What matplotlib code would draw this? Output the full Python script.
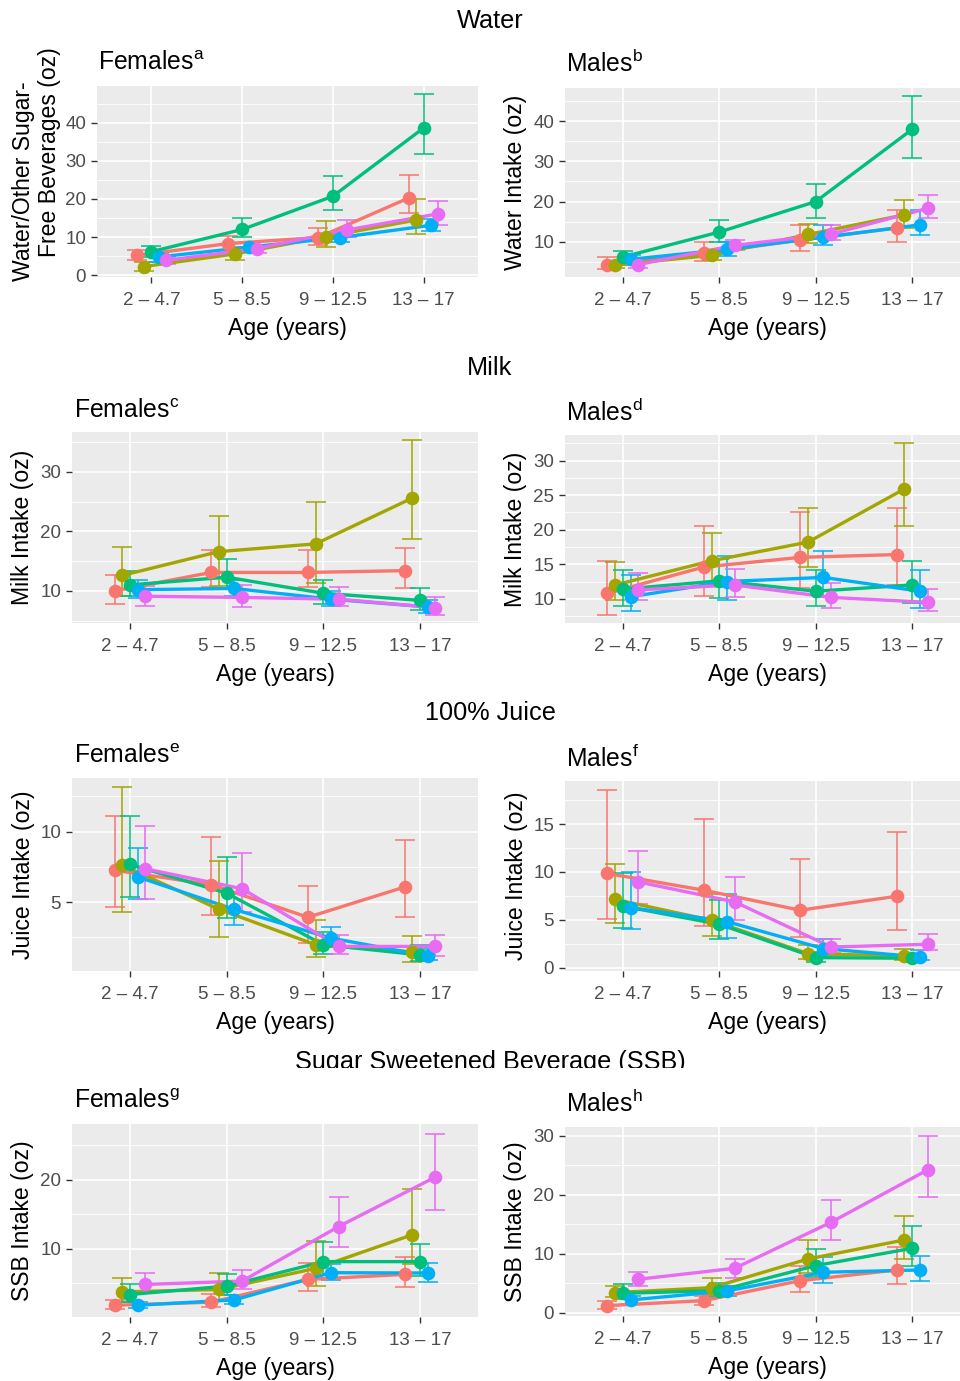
import matplotlib
matplotlib.use("Agg")
import matplotlib.pyplot as plt
import numpy as np
from matplotlib.transforms import Bbox

plt.rcParams['font.family'] = ['Liberation Sans', 'DejaVu Sans']
plt.rcParams['mathtext.fontset'] = 'custom'
plt.rcParams['mathtext.rm'] = 'Liberation Sans'
plt.rcParams['mathtext.it'] = 'Liberation Sans'

# ---------------- data ----------------
age_groups = ["2 – 4.7", "5 – 8.5", "9 – 12.5", "13 – 17"]
group_colors = ["#F8766D", "#A3A500", "#00BF7D", "#00B0F6", "#E76BF3"]

# rows: red, olive, green, blue, pink ; columns: age groups
water_f_mean = [[5.2, 8.3, 9.9, 20.3], [2.3, 5.6, 10.1, 14.5], [6.2, 12.0, 20.7, 38.6], [4.8, 7.4, 9.9, 13.1], [3.9, 7.0, 11.9, 16.1]]
water_f_low = [[4.0, 6.6, 7.9, 16.2], [1.2, 4.1, 7.5, 10.7], [4.9, 10.0, 17.1, 31.7], [3.6, 6.2, 8.6, 11.7], [2.9, 5.8, 10.0, 13.2]]
water_f_high = [[6.7, 10.3, 12.4, 26.3], [3.6, 7.5, 14.1, 19.9], [7.7, 14.9, 25.9, 47.5], [5.8, 8.8, 11.0, 14.7], [4.9, 7.9, 14.5, 19.5]]

water_m_mean = [[4.3, 7.1, 10.4, 13.4], [4.2, 6.6, 11.8, 16.7], [6.2, 12.4, 20.0, 38.0], [5.6, 8.1, 11.1, 14.2], [4.3, 9.1, 11.9, 18.3]]
water_m_low = [[3.2, 5.2, 7.6, 10.0], [3.4, 5.4, 9.6, 13.4], [4.7, 10.0, 16.0, 30.9], [4.3, 6.4, 9.2, 11.6], [3.5, 7.9, 10.4, 16.0]]
water_m_high = [[6.2, 10.0, 14.1, 17.9], [5.2, 7.9, 14.4, 20.3], [7.7, 15.3, 24.5, 46.3], [6.7, 9.8, 14.1, 17.9], [5.2, 10.4, 14.1, 21.6]]

milk_f_mean = [[10.0, 13.1, 13.1, 13.4], [12.6, 16.6, 17.9, 25.6], [11.0, 12.3, 9.6, 8.4], [10.2, 10.4, 8.6, 7.3], [9.1, 8.9, 8.6, 7.2]]
milk_f_low = [[7.8, 10.6, 10.6, 10.5], [9.1, 10.8, 11.3, 18.8], [9.1, 10.4, 7.8, 6.8], [8.8, 9.1, 7.5, 6.3], [7.5, 7.3, 7.4, 6.0]]
milk_f_high = [[12.6, 16.9, 16.9, 17.2], [17.4, 22.6, 24.9, 35.3], [13.4, 15.3, 11.8, 10.5], [11.8, 11.8, 9.9, 8.4], [10.8, 11.0, 10.7, 8.9]]

milk_m_mean = [[10.8, 14.6, 16.0, 16.4], [12.0, 15.5, 18.2, 25.9], [11.4, 12.6, 11.1, 12.0], [10.3, 12.5, 13.1, 11.1], [11.3, 12.0, 10.2, 9.5]]
milk_m_low = [[7.7, 10.4, 11.5, 12.0], [9.8, 12.5, 14.6, 20.6], [8.9, 10.1, 8.9, 9.4], [8.2, 9.8, 10.2, 8.7], [9.8, 10.2, 8.7, 8.2]]
milk_m_high = [[15.5, 20.6, 22.5, 23.1], [15.3, 19.5, 23.1, 32.6], [14.1, 15.7, 14.2, 15.5], [13.4, 16.2, 16.9, 14.1], [13.7, 14.3, 12.3, 11.4]]

juice_f_mean = [[7.26, 6.24, 3.93, 6.07], [7.62, 4.5, 1.98, 1.48], [7.67, 5.64, 1.98, 1.26], [6.79, 4.48, 2.45, 1.19], [7.36, 5.95, 1.86, 1.86]]
juice_f_low = [[4.64, 4.07, 2.12, 3.98], [4.33, 2.5, 1.12, 0.79], [5.33, 3.86, 1.36, 0.83], [5.19, 3.4, 1.79, 0.88], [5.19, 4.29, 1.36, 1.21]]
juice_f_high = [[11.1, 9.64, 6.12, 9.4], [13.17, 7.93, 3.74, 2.57], [11.1, 8.17, 2.9, 1.95], [8.86, 5.6, 3.26, 1.67], [10.43, 8.5, 2.69, 2.69]]

juice_m_mean = [[9.84, 8.09, 6.0, 7.46], [7.12, 4.95, 1.46, 1.22], [6.42, 4.53, 1.05, 0.98], [6.28, 4.81, 1.99, 1.12], [8.96, 6.87, 2.16, 2.44]]
juice_m_low = [[5.13, 4.32, 3.21, 3.98], [4.67, 3.31, 0.94, 0.84], [4.15, 3.03, 0.59, 0.59], [4.01, 3.14, 1.29, 0.84], [6.7, 5.02, 1.53, 1.81]]
juice_m_high = [[18.56, 15.52, 11.34, 14.2], [10.8, 7.74, 2.34, 1.99], [9.84, 7.05, 1.64, 1.46], [10.0, 7.74, 2.96, 1.81], [12.17, 9.49, 2.96, 3.49]]

ssb_f_mean = [[1.76, 2.2, 5.51, 6.24], [3.7, 4.05, 7.12, 12.0], [3.32, 4.54, 8.1, 8.1], [1.76, 2.54, 6.49, 6.44], [4.78, 5.27, 13.2, 20.4]]
ssb_f_low = [[1.27, 1.51, 3.9, 4.39], [2.2, 2.59, 4.54, 7.8], [2.24, 3.32, 6.1, 6.0], [1.37, 1.95, 5.37, 5.17], [3.7, 4.05, 10.24, 15.6]]
ssb_f_high = [[2.59, 3.46, 7.95, 8.78], [5.76, 6.49, 11.1, 18.6], [4.78, 6.24, 10.9, 10.73], [2.24, 3.32, 7.8, 7.95], [6.49, 6.93, 17.5, 26.7]]

ssb_m_mean = [[1.19, 2.04, 5.43, 7.24], [3.4, 4.24, 9.11, 12.34], [3.28, 3.74, 7.98, 10.92], [2.15, 3.68, 6.85, 7.24], [5.66, 7.53, 15.34, 24.22]]
ssb_m_low = [[0.57, 1.3, 3.45, 4.81], [2.6, 3.0, 6.68, 9.11], [2.26, 2.72, 6.11, 7.98], [1.47, 2.83, 5.09, 5.38], [4.53, 5.94, 12.34, 19.7]]
ssb_m_high = [[2.04, 2.89, 7.98, 11.2], [4.58, 5.94, 12.3, 16.47], [4.81, 5.09, 10.75, 14.77], [2.89, 4.53, 9.39, 9.68], [6.96, 9.11, 19.13, 30.0]]

row_titles = ["Water", "Milk", "100% Juice", "Sugar Sweetened Beverage (SSB)"]
panel_titles = ["Females", "Males", "Females", "Males", "Females", "Males", "Females", "Males"]
panel_letters = ["a", "b", "c", "d", "e", "f", "g", "h"]
y_labels = ["Water/Other Sugar-\nFree Beverages (oz)", "Water Intake (oz)",
            "Milk Intake (oz)", "Milk Intake (oz)",
            "Juice Intake (oz)", "Juice Intake (oz)",
            "SSB Intake (oz)", "SSB Intake (oz)"]
y_major = [[0, 10, 20, 30, 40], [10, 20, 30, 40], [10, 20, 30], [10, 15, 20, 25, 30],
           [5, 10], [0, 5, 10, 15], [10, 20], [0, 10, 20, 30]]
y_minor = [[5, 15, 25, 35, 45], [5, 15, 25, 35, 45], [5, 15, 25, 35], [7.5, 12.5, 17.5, 22.5, 27.5, 32.5],
           [2.5, 7.5, 12.5], [2.5, 7.5, 12.5, 17.5], [5, 15, 25], [5, 15, 25]]
x_label = "Age (years)"

# ---------------- layout ----------------
W, H = 960, 1381
fig = plt.figure(figsize=(W / 100, H / 100), dpi=100)
fig.patch.set_facecolor("white")

rects_px = [(97, 86, 478, 277), (565, 88, 970, 277),
            (72, 432, 478, 623), (565, 435, 970, 623),
            (72, 778, 478, 971), (565, 781, 970, 971),
            (72, 1124, 478, 1317), (565, 1127, 970, 1316)]
ylims = [(-0.45, 49.6), (1.2, 48.3), (4.6, 36.7), (6.5, 33.7),
         (0.12, 13.8), (-0.35, 19.5), (0.05, 28.1), (-0.57, 31.5)]
title_pos = [(98, 70), (566, 72), (74, 418), (566, 421), (74, 763), (566, 767), (74, 1108), (566, 1112)]
header_pos = [(490, 28.5, None), (490, 375, None), (490, 720.5, 721.0), (490, 1069, 1067.5)]
first_ylabel_lines_pos = [(24, 181.5), (50, 152.5)]

panels = [(water_f_mean, water_f_low, water_f_high), (water_m_mean, water_m_low, water_m_high),
          (milk_f_mean, milk_f_low, milk_f_high), (milk_m_mean, milk_m_low, milk_m_high),
          (juice_f_mean, juice_f_low, juice_f_high), (juice_m_mean, juice_m_low, juice_m_high),
          (ssb_f_mean, ssb_f_low, ssb_f_high), (ssb_m_mean, ssb_m_low, ssb_m_high)]

dodge = np.linspace(-0.16, 0.16, 5)
xbase = np.arange(len(age_groups))

for i, (means, lows, highs) in enumerate(panels):
    x0, y0, x1, y1 = rects_px[i]
    ax = fig.add_axes([x0 / W, 1 - y1 / H, (x1 - x0) / W, (y1 - y0) / H])
    ax.set_facecolor("#EBEBEB")
    for s in ax.spines.values():
        s.set_visible(False)
    ax.set_xlim(-0.6, 3.6)
    ax.set_ylim(*ylims[i])
    ax.set_xticks(xbase)
    ax.set_xticklabels(age_groups)
    ax.set_yticks(y_major[i])
    ax.set_yticks(y_minor[i], minor=True)
    ax.grid(True, which="major", color="white", lw=1.2, zorder=0)
    ax.grid(True, which="minor", axis="y", color="white", lw=0.6, zorder=0)
    ax.set_axisbelow(True)
    ax.tick_params(axis="both", which="major", labelsize=13.5, labelcolor="#4D4D4D",
                   color="#333333", length=4.3, width=1.0)
    ax.tick_params(axis="x", pad=6.5)
    ax.tick_params(axis="y", pad=3.6)
    ax.tick_params(axis="y", which="minor", length=0)

    for k in range(5):
        m = np.array(means[k]); lo = np.array(lows[k]); hi = np.array(highs[k])
        xs = xbase + dodge[k]
        ax.errorbar(xs, m, yerr=[m - lo, hi - m], fmt="none", ecolor=group_colors[k],
                    elinewidth=1.1, capsize=7, capthick=1.1, zorder=3)
    for k in range(5):
        xs = xbase + dodge[k]
        ax.plot(xs, means[k], color=group_colors[k], lw=2.4, zorder=4, solid_capstyle="butt")
    for k in range(5):
        xs = xbase + dodge[k]
        ax.plot(xs, means[k], "o", color=group_colors[k], ms=9.8, mec="none", zorder=5)

    ax.set_xlabel(x_label, fontsize=16.6, labelpad=5.5)
    if i == 0:
        for line, (lx, ly) in zip(y_labels[i].split("\n"), first_ylabel_lines_pos):
            fig.text(lx / W, 1 - ly / H, line, rotation=90, ha="center", va="center",
                     fontsize=16.6)
    else:
        ax.set_ylabel(y_labels[i], fontsize=16.6, labelpad=4)

    tx, ty = title_pos[i]
    fig.text(tx / W, 1 - ty / H, panel_titles[i] + r"$^{\mathrm{" + panel_letters[i] + "}}$",
             fontsize=17.8, ha="left", va="baseline")

for r, (hx, hy, clip) in enumerate(header_pos):
    t = fig.text(hx / W, 1 - hy / H, row_titles[r], fontsize=18.2, ha="center", va="baseline")
    if clip is not None:
        t.set_clip_box(Bbox([[0, H - clip], [W, H]]))
        t.set_clip_on(True)

fig.savefig("out.png", dpi=100, facecolor="white")
